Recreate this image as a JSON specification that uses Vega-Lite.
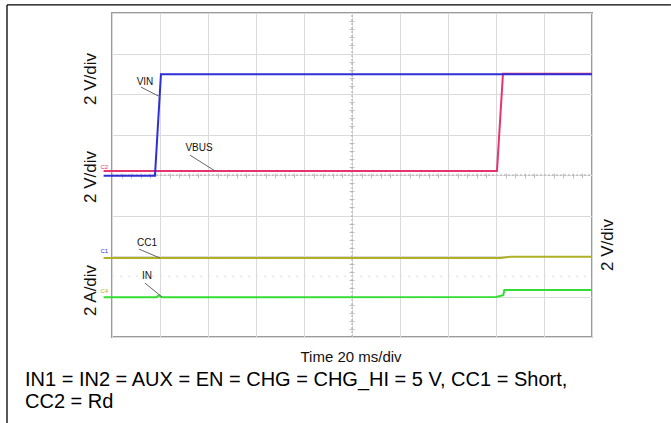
{
  "$schema": "https://vega.github.io/schema/vega-lite/v6.json",
  "width": 480,
  "height": 324,
  "autosize": {"type": "none"},
  "padding": {"left": 112, "top": 13, "right": 79, "bottom": 86},
  "background": "white",
  "config": {
    "view": {"stroke": "#9a9a9a", "strokeWidth": 2},
    "font": "Liberation Sans",
    "text": {"font": "Liberation Sans"}
  },
  "resolve": {"axis": {"x": "independent", "y": "independent"}},
  "layer": [
    {
      "data": {"values": [
        {"t": -43.75, "t2": 232.9, "v": 4.2, "v2": 4.2},
        {"t": -43.75, "t2": -43.75, "v": 4.2, "v2": -6.3}
      ]},
      "mark": {"type": "rule", "color": "black", "strokeWidth": 1.3},
      "encoding": {
        "x": {"field": "t", "type": "quantitative", "scale": {"domain": [0, 200], "nice": false, "zero": false}, "axis": null},
        "x2": {"field": "t2"},
        "y": {"field": "v", "type": "quantitative", "scale": {"domain": [-4, 4], "nice": false, "zero": false}, "axis": null},
        "y2": {"field": "v2"}
      }
    },
    {
      "data": {"values": [
        {"t": 100, "t2": 100, "v": -4, "v2": 4},
        {"t": 0, "t2": 200, "v": 0, "v2": 0}
      ]},
      "mark": {"type": "rule", "color": "#a8a8a8", "strokeWidth": 1, "strokeDash": [2, 2]},
      "encoding": {
        "x": {"field": "t", "type": "quantitative", "scale": {"domain": [0, 200], "nice": false, "zero": false},
          "axis": {"orient": "top", "offset": -165, "values": [4,8,12,16,24,28,32,36,44,48,52,56,64,68,72,76,84,88,92,96,104,108,112,116,124,128,132,136,144,148,152,156,164,168,172,176,184,188,192,196],
            "tickSize": 5, "tickColor": "#c0c0c0", "labels": false, "domain": false, "grid": false, "title": null}},
        "x2": {"field": "t2"},
        "y": {"field": "v", "type": "quantitative", "scale": {"domain": [-4, 4], "nice": false, "zero": false},
          "axis": {"orient": "right", "offset": -243, "values": [-3.8,-3.6,-3.4,-3.2,-2.8,-2.6,-2.4,-2.2,-1.8,-1.6,-1.4,-1.2,-0.8,-0.6,-0.4,-0.2,0.2,0.4,0.6,0.8,1.2,1.4,1.6,1.8,2.2,2.4,2.6,2.8,3.2,3.4,3.6,3.8],
            "tickSize": 5, "tickColor": "#c0c0c0", "labels": false, "domain": false, "grid": false, "title": null}},
        "y2": {"field": "v2"}
      }
    },
    {
      "data": {"values": [{"t": 0, "t2": 200, "v": -2.5, "v2": -2.5}]},
      "mark": {"type": "rule", "color": "#dcdcdc", "strokeWidth": 1, "strokeDash": [2, 6]},
      "encoding": {
        "x": {"field": "t", "type": "quantitative", "scale": {"domain": [0, 200], "nice": false, "zero": false}, "axis": null},
        "x2": {"field": "t2"},
        "y": {"field": "v", "type": "quantitative", "scale": {"domain": [-4, 4], "nice": false, "zero": false}, "axis": null},
        "y2": {"field": "v2"}
      }
    },
    {
      "data": {"values": [
        {"series": "VBUS", "i": 0, "t": -3.5, "v": 0.1},
        {"series": "VBUS", "i": 1, "t": 160.4, "v": 0.1},
        {"series": "VBUS", "i": 2, "t": 162.9, "v": 2.5},
        {"series": "VBUS", "i": 3, "t": 200, "v": 2.5},
        {"series": "VIN", "i": 0, "t": -3.5, "v": -0.02},
        {"series": "VIN", "i": 1, "t": 17.9, "v": -0.02},
        {"series": "VIN", "i": 2, "t": 20.4, "v": 2.49},
        {"series": "VIN", "i": 3, "t": 200, "v": 2.49},
        {"series": "CC1", "i": 0, "t": -3.5, "v": -2.05},
        {"series": "CC1", "i": 1, "t": 162, "v": -2.05},
        {"series": "CC1", "i": 2, "t": 166, "v": -2.02},
        {"series": "CC1", "i": 3, "t": 200, "v": -2.02},
        {"series": "IN", "i": 0, "t": -3.5, "v": -3.02},
        {"series": "IN", "i": 1, "t": 18.5, "v": -3.02},
        {"series": "IN", "i": 2, "t": 19.5, "v": -2.97},
        {"series": "IN", "i": 3, "t": 20.8, "v": -3.02},
        {"series": "IN", "i": 4, "t": 160, "v": -3.01},
        {"series": "IN", "i": 5, "t": 163, "v": -2.97},
        {"series": "IN", "i": 6, "t": 163.5, "v": -2.84},
        {"series": "IN", "i": 7, "t": 200, "v": -2.84}
      ]},
      "mark": {"type": "line", "strokeWidth": 2, "clip": false},
      "encoding": {
        "x": {"field": "t", "type": "quantitative", "scale": {"domain": [0, 200], "nice": false, "zero": false},
          "axis": {"values": [0,20,40,60,80,100,120,140,160,180,200], "grid": true, "gridColor": "#dadada", "gridWidth": 1, "labels": false, "ticks": false, "domain": false, "title": null}},
        "y": {"field": "v", "type": "quantitative", "scale": {"domain": [-4, 4], "nice": false, "zero": false},
          "axis": {"values": [-4,-3,-2,-1,0,1,2,3,4], "grid": true, "gridColor": "#dadada", "gridWidth": 1, "labels": false, "ticks": false, "domain": false, "title": null}},
        "color": {"field": "series", "type": "nominal", "scale": {"domain": ["VBUS", "VIN", "CC1", "IN"], "range": ["#e8336e", "#2f2fd8", "#b0b024", "#33dd33"]}, "legend": null},
        "order": {"field": "i"}
      }
    },
    {
      "data": {"values": [
        {"t": 12.1, "t2": 20, "v": 2.17, "v2": 1.93},
        {"t": 32.5, "t2": 42.9, "v": 0.49, "v2": 0.1},
        {"t": 11.25, "t2": 20, "v": -1.83, "v2": -2.05},
        {"t": 13.75, "t2": 20.8, "v": -2.67, "v2": -3.01}
      ]},
      "mark": {"type": "rule", "color": "#666666", "strokeWidth": 1},
      "encoding": {
        "x": {"field": "t", "type": "quantitative", "scale": {"domain": [0, 200], "nice": false, "zero": false}, "axis": null},
        "x2": {"field": "t2"},
        "y": {"field": "v", "type": "quantitative", "scale": {"domain": [-4, 4], "nice": false, "zero": false}, "axis": null},
        "y2": {"field": "v2"}
      }
    },
    {
      "data": {"values": [
        {"label": "VIN", "t": 13.75, "v": 2.3},
        {"label": "VBUS", "t": 36.25, "v": 0.67},
        {"label": "CC1", "t": 14.6, "v": -1.68},
        {"label": "IN", "t": 14.6, "v": -2.49}
      ]},
      "mark": {"type": "text", "fontSize": 10, "color": "#111111", "baseline": "middle", "align": "center"},
      "encoding": {
        "x": {"field": "t", "type": "quantitative", "scale": {"domain": [0, 200], "nice": false, "zero": false}, "axis": null},
        "y": {"field": "v", "type": "quantitative", "scale": {"domain": [-4, 4], "nice": false, "zero": false}, "axis": null},
        "text": {"field": "label"}
      }
    },
    {
      "data": {"values": [
        {"label": "C2", "t": -3.2, "v": 0.12, "c": "C2"},
        {"label": "C1", "t": -3.2, "v": -1.95, "c": "C1"},
        {"label": "C4", "t": -3.2, "v": -2.93, "c": "C4"}
      ]},
      "mark": {"type": "text", "fontSize": 6, "baseline": "bottom", "align": "center"},
      "encoding": {
        "x": {"field": "t", "type": "quantitative", "scale": {"domain": [0, 200], "nice": false, "zero": false}, "axis": null},
        "y": {"field": "v", "type": "quantitative", "scale": {"domain": [-4, 4], "nice": false, "zero": false}, "axis": null},
        "text": {"field": "label"},
        "color": {"field": "c", "type": "nominal", "scale": {"domain": ["C2", "C1", "C4"], "range": ["#4a4ad0", "#a8a830", "#33cc33"]}, "legend": null}
      }
    },
    {
      "data": {"values": [
        {"label": "2 V/div", "t": -8.75, "v": 2.37},
        {"label": "2 V/div", "t": -8.75, "v": -0.05},
        {"label": "2 A/div", "t": -8.75, "v": -2.85},
        {"label": "2 V/div", "t": 206.7, "v": -1.73}
      ]},
      "mark": {"type": "text", "fontSize": 17, "color": "#111111", "angle": 270, "baseline": "middle", "align": "center"},
      "encoding": {
        "x": {"field": "t", "type": "quantitative", "scale": {"domain": [0, 200], "nice": false, "zero": false}, "axis": null},
        "y": {"field": "v", "type": "quantitative", "scale": {"domain": [-4, 4], "nice": false, "zero": false}, "axis": null},
        "text": {"field": "label"}
      }
    },
    {
      "data": {"values": [
        {"label": "Time 20 ms/div", "t": 99.6, "v": -4.5}
      ]},
      "mark": {"type": "text", "fontSize": 15, "color": "#111111", "baseline": "middle", "align": "center"},
      "encoding": {
        "x": {"field": "t", "type": "quantitative", "scale": {"domain": [0, 200], "nice": false, "zero": false}, "axis": null},
        "y": {"field": "v", "type": "quantitative", "scale": {"domain": [-4, 4], "nice": false, "zero": false}, "axis": null},
        "text": {"field": "label"}
      }
    },
    {
      "data": {"values": [
        {"label": "IN1 = IN2 = AUX = EN = CHG = CHG_HI = 5 V, CC1 = Short,", "t": -36.25, "v": -5.07},
        {"label": "CC2 = Rd", "t": -36.25, "v": -5.6}
      ]},
      "mark": {"type": "text", "fontSize": 20, "color": "#000000", "baseline": "middle", "align": "left"},
      "encoding": {
        "x": {"field": "t", "type": "quantitative", "scale": {"domain": [0, 200], "nice": false, "zero": false}, "axis": null},
        "y": {"field": "v", "type": "quantitative", "scale": {"domain": [-4, 4], "nice": false, "zero": false}, "axis": null},
        "text": {"field": "label"}
      }
    }
  ]
}
